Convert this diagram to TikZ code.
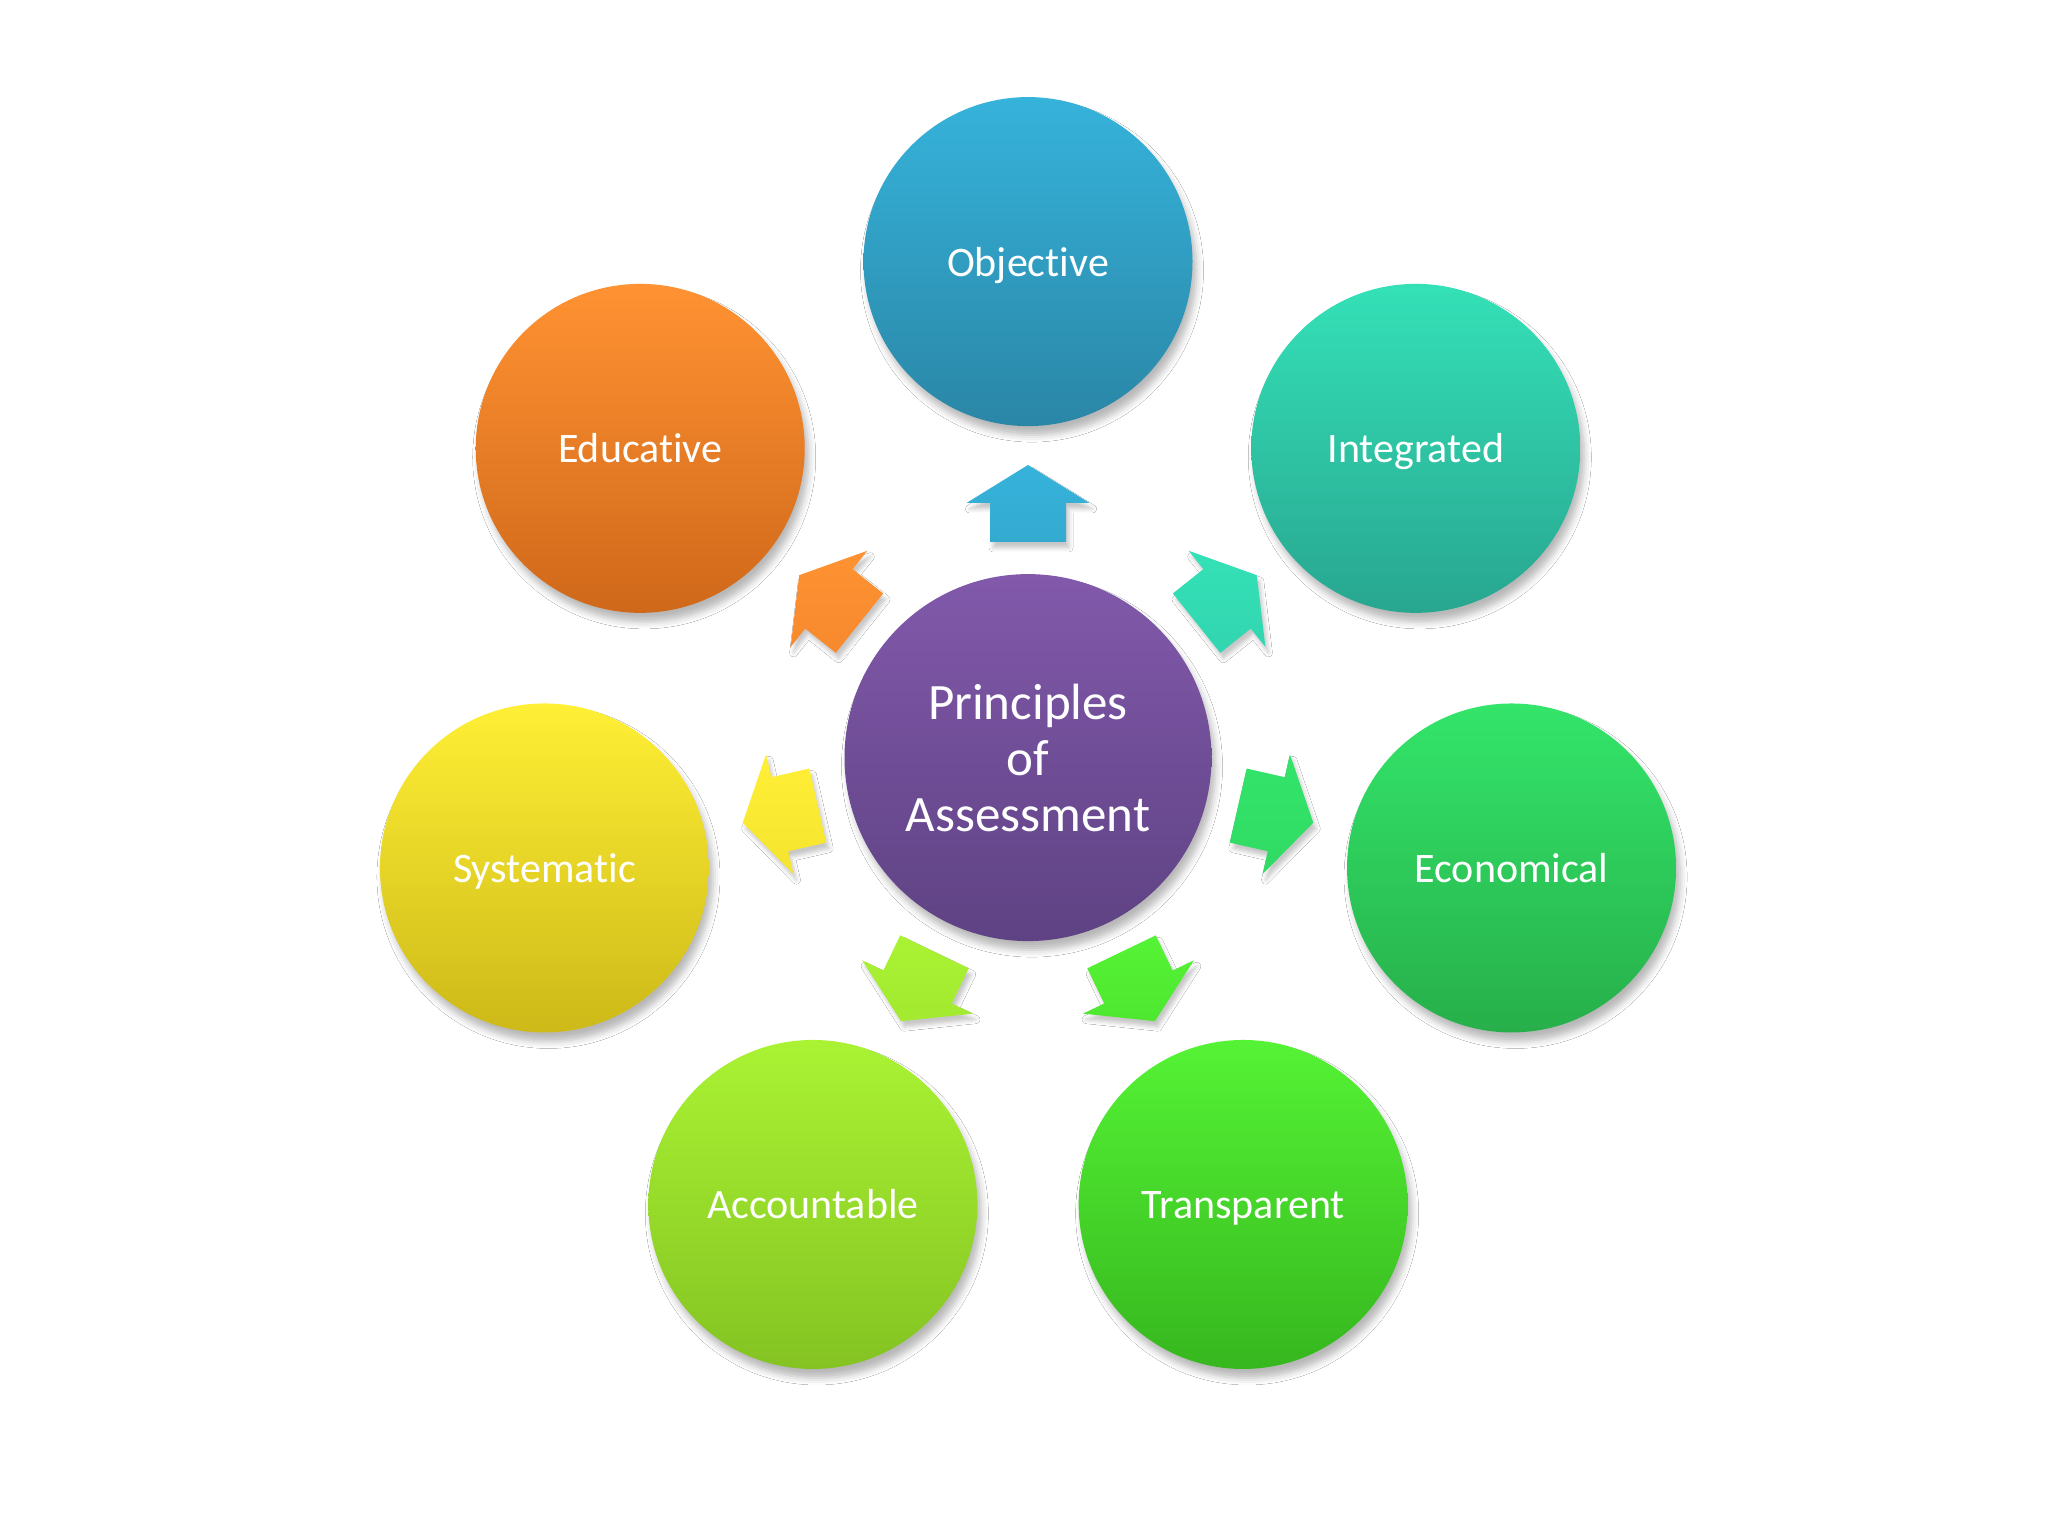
\documentclass[tikz,border=0pt]{standalone}
\usepackage{fontspec}
\setmainfont[Ligatures={NoCommon,NoRare}]{Carlito}
\usetikzlibrary{calc,shadows.blur}
\definecolor{cpt}{HTML}{8259AB}
\definecolor{cpb}{HTML}{5E4283}
\definecolor{obt}{HTML}{36B3DB}
\definecolor{obb}{HTML}{2A86A6}
\definecolor{int}{HTML}{34E1B7}
\definecolor{inb}{HTML}{28A690}
\definecolor{ect}{HTML}{33E56A}
\definecolor{ecb}{HTML}{27AF4A}
\definecolor{trt}{HTML}{55F335}
\definecolor{trb}{HTML}{36B71E}
\definecolor{act}{HTML}{AAF333}
\definecolor{acb}{HTML}{84C322}
\definecolor{syt}{HTML}{FFEF35}
\definecolor{syb}{HTML}{CDB918}
\definecolor{edt}{HTML}{FF9232}
\definecolor{edb}{HTML}{CF681A}
\begin{document}
\begin{tikzpicture}[x=1pt,y=1pt,
  bubble/.style={circle, minimum size=329pt, inner sep=0pt, text=white,
    font=\fontsize{42}{50}\selectfont,
    blur shadow={shadow xshift=4pt, shadow yshift=-9pt, shadow blur radius=7pt, shadow opacity=28}},
  label text/.style={text height=29pt, text depth=0pt},
  blockarrow/.style={blur shadow={shadow xshift=3pt, shadow yshift=-6pt, shadow blur radius=4pt, shadow opacity=22}}
]
\fill[white] (0,0) rectangle (2048,1536);
\useasboundingbox (0,0) rectangle (2048,1536);
\coordinate (C) at (1028,778.4);
\foreach \ang/\name/\txt/\ct/\cb in {
  90/objective/Objective/obt/obb,
  38.57/integrated/Integrated/int/inb,
  -12.86/economical/Economical/ect/ecb,
  -64.29/transparent/Transparent/trt/trb,
  -115.71/accountable/Accountable/act/acb,
  -167.14/systematic/Systematic/syt/syb,
  141.43/educative/Educative/edt/edb}
{
  \node[bubble, label text, top color=\ct, bottom color=\cb] (\name) at ($(C)+(\ang:496)$) {\txt};
  \path[blockarrow, shift={(C)}, rotate=\ang-90, top color=\ct, bottom color=\ct!80!\cb]
    (-38,215.6) -- (38,215.6) -- (38,254.6) -- (61.5,254.6) -- (0,292.6)
    -- (-61.5,254.6) -- (-38,254.6) -- cycle;
}
\node[bubble, minimum size=367pt, top color=cpt, bottom color=cpb,
  font=\fontsize{51}{56}\selectfont, align=center] (center) at (C) {Principles\\of\\Assessment};
\end{tikzpicture}
\end{document}
